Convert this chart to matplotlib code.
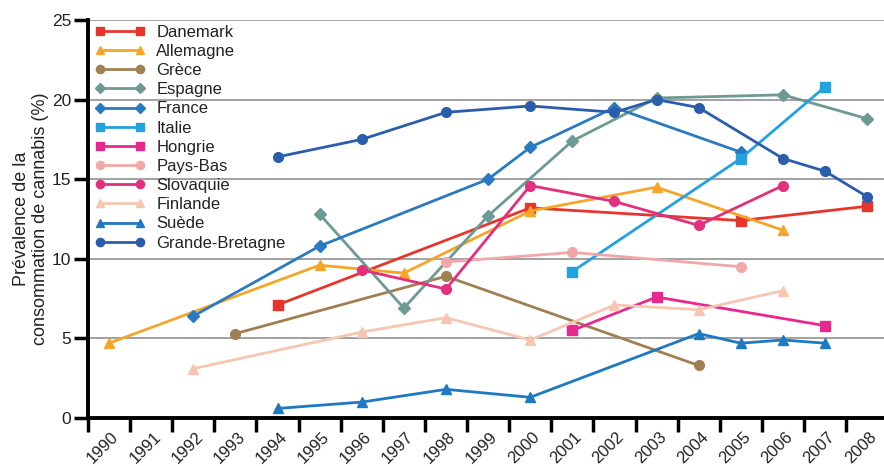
import matplotlib
matplotlib.use("Agg")
import matplotlib.pyplot as plt
import matplotlib.transforms as mtransforms
import numpy as np

plt.rcParams['font.family'] = ['Liberation Sans', 'DejaVu Sans']

years = [str(y) for y in range(1990, 2009)]

danemark_x = [1994, 2000, 2005, 2008]
danemark_y = [7.1, 13.2, 12.4, 13.3]
allemagne_x = [1990, 1995, 1997, 2000, 2003, 2006]
allemagne_y = [4.7, 9.6, 9.1, 13.0, 14.5, 11.8]
grece_x = [1993, 1998, 2004]
grece_y = [5.3, 8.9, 3.3]
espagne_x = [1995, 1997, 1999, 2001, 2003, 2006, 2008]
espagne_y = [12.8, 6.9, 12.7, 17.4, 20.1, 20.3, 18.8]
france_x = [1992, 1995, 1999, 2000, 2002, 2005]
france_y = [6.4, 10.8, 15.0, 17.0, 19.5, 16.7]
italie_x = [2001, 2005, 2007]
italie_y = [9.2, 16.3, 20.8]
hongrie_x = [2001, 2003, 2007]
hongrie_y = [5.5, 7.6, 5.8]
paysbas_x = [1998, 2001, 2005]
paysbas_y = [9.8, 10.4, 9.5]
slovaquie_x = [1996, 1998, 2000, 2002, 2004, 2006]
slovaquie_y = [9.3, 8.1, 14.6, 13.6, 12.1, 14.6]
finlande_x = [1992, 1996, 1998, 2000, 2002, 2004, 2006]
finlande_y = [3.1, 5.4, 6.3, 4.9, 7.1, 6.8, 8.0]
suede_x = [1994, 1996, 1998, 2000, 2004, 2005, 2006, 2007]
suede_y = [0.6, 1.0, 1.8, 1.3, 5.3, 4.7, 4.9, 4.7]
gb_x = [1994, 1996, 1998, 2000, 2002, 2003, 2004, 2006, 2007, 2008]
gb_y = [16.4, 17.5, 19.2, 19.6, 19.2, 20.0, 19.5, 16.3, 15.5, 13.9]

series = [
    ("Danemark", danemark_x, danemark_y, "#E8352B", "s"),
    ("Allemagne", allemagne_x, allemagne_y, "#F5A62A", "^"),
    ("Grèce", grece_x, grece_y, "#A08050", "o"),
    ("Espagne", espagne_x, espagne_y, "#6E9A94", "D"),
    ("France", france_x, france_y, "#2A7AC2", "D"),
    ("Italie", italie_x, italie_y, "#22A2DE", "s"),
    ("Hongrie", hongrie_x, hongrie_y, "#E8288E", "s"),
    ("Pays-Bas", paysbas_x, paysbas_y, "#F2A8A8", "o"),
    ("Slovaquie", slovaquie_x, slovaquie_y, "#E2307C", "o"),
    ("Finlande", finlande_x, finlande_y, "#F6C6B2", "^"),
    ("Suède", suede_x, suede_y, "#1E78C2", "^"),
    ("Grande-Bretagne", gb_x, gb_y, "#2A5EAC", "o"),
]

fig = plt.figure(figsize=(8.84, 4.66), dpi=100)
ax = fig.add_axes([88/884, 1-418/466, 1-88/884, (418-20)/466])

for name, xs, ys, col, mk in series:
    idx = [years.index(str(x)) for x in xs]
    ms = 6 if mk == "D" else 7
    ax.plot(idx, ys, color=col, marker=mk, markersize=ms, linewidth=2, label=name)

ax.set_xlim(-0.5, 18.4)
ax.set_ylim(0, 25)
ax.set_yticks([0, 5, 10, 15, 20, 25])
for v in [5, 10, 15, 20, 25]:
    ax.axhline(v, color="#9a9a9a", linewidth=1.3, zorder=0)

ax.set_xticks(np.arange(-0.5, 18.0, 1.0))
ax.set_xticklabels([])
ax.set_xticks(np.arange(0, 19), minor=True)
ax.set_xticklabels(years, minor=True, rotation=45, ha='right', rotation_mode='anchor',
                   fontsize=12, color="#222222")
ax.tick_params(axis='x', which='minor', length=0, pad=4)
offset = mtransforms.ScaledTranslation(2/100, -6/100, fig.dpi_scale_trans)
for lab in ax.get_xticklabels(minor=True):
    lab.set_transform(lab.get_transform() + offset)
ax.tick_params(axis='x', which='major', length=10, width=2.5, direction='out')
ax.tick_params(axis='y', length=10, width=2.5, direction='out', labelsize=12.5,
               labelcolor="#222222", pad=2)

ax.spines['top'].set_visible(False)
ax.spines['right'].set_visible(False)
ax.spines['left'].set_linewidth(2.8)
ax.spines['bottom'].set_linewidth(2.8)

ax.set_ylabel("Prévalence de la\nconsommation de cannabis (%)", fontsize=13,
              labelpad=2, linespacing=1.15, color="#222222")

ax.legend(loc='upper left', frameon=False, fontsize=12, handlelength=3.0,
          labelspacing=0.25, borderaxespad=0.0, bbox_to_anchor=(0.0, 1.005),
          handletextpad=0.7, numpoints=2, markerscale=0.85,
          labelcolor="#222222")

fig.savefig("out.png", dpi=100)
